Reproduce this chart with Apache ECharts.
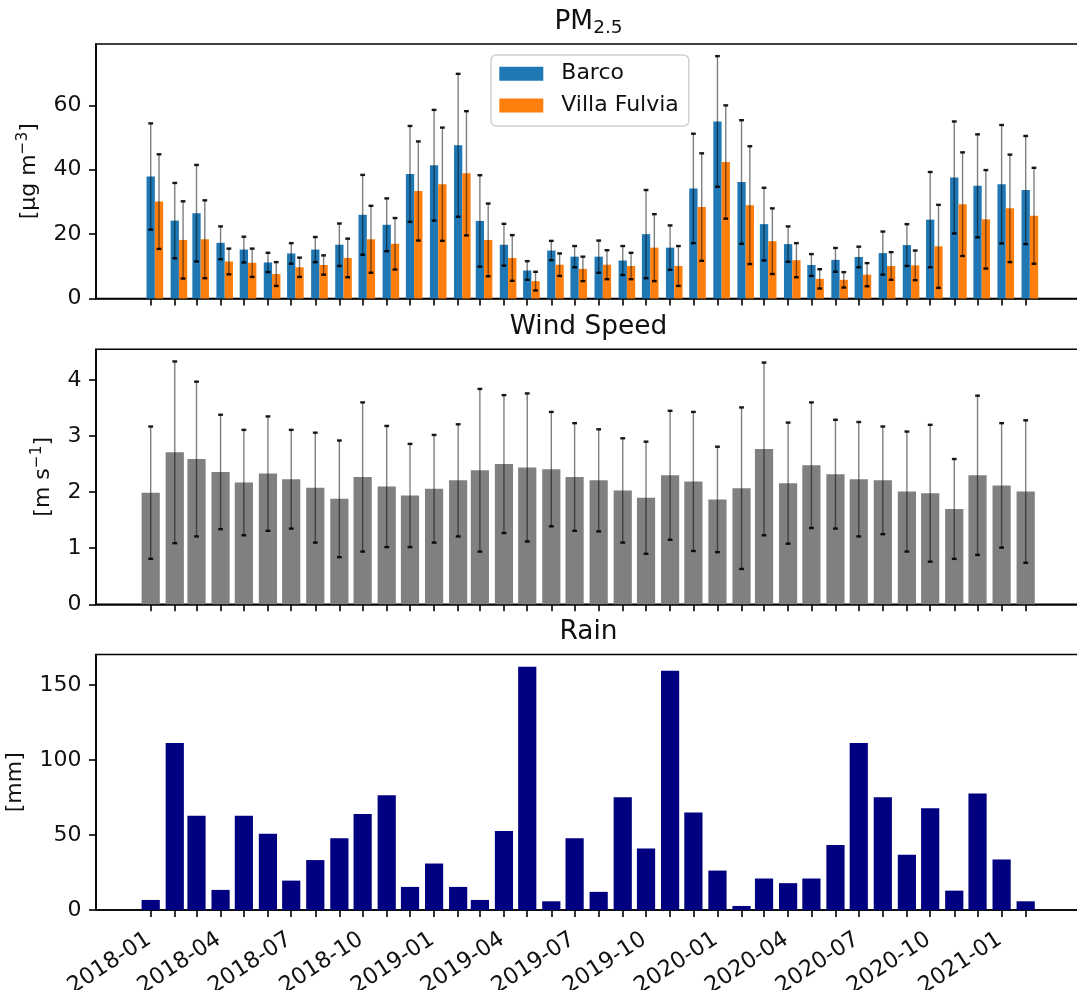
<!DOCTYPE html>
<html>
<head>
<meta charset="utf-8">
<script src="https://cdn.jsdelivr.net/npm/echarts@6/dist/echarts.min.js"></script>
<style>
  html, body { margin: 0; padding: 0; background: #ffffff; }
  #chart { width: 1077px; height: 990px; }
</style>
</head>
<body>
<div id="chart"></div>
<script>
// ---- Monthly data, 2018-01 .. 2021-02 ----
const months = [
  '2018-01','2018-02','2018-03','2018-04','2018-05','2018-06','2018-07','2018-08','2018-09','2018-10','2018-11','2018-12',
  '2019-01','2019-02','2019-03','2019-04','2019-05','2019-06','2019-07','2019-08','2019-09','2019-10','2019-11','2019-12',
  '2020-01','2020-02','2020-03','2020-04','2020-05','2020-06','2020-07','2020-08','2020-09','2020-10','2020-11','2020-12',
  '2021-01','2021-02'
];
const tickLabels = ['2018-01','2018-04','2018-07','2018-10','2019-01','2019-04','2019-07','2019-10',
                    '2020-01','2020-04','2020-07','2020-10','2021-01'];

// PM2.5 monthly mean and standard deviation [µg m-3]
const barcoMean = [37.9, 24.2, 26.5, 17.3, 15.2, 11.2, 14.0, 15.2, 16.7, 26.0, 22.9, 38.7,
                   41.4, 47.6, 24.1, 16.7, 8.7, 14.9, 13.0, 13.0, 11.8, 20.0, 15.8, 34.2,
                   55.0, 36.2, 23.1, 16.9, 10.4, 12.0, 12.9, 14.1, 16.6, 24.5, 37.6, 35.0,
                   35.5, 33.7];
const barcoStd  = [16.5, 11.7, 15.0, 5.1, 4.0, 3.0, 3.2, 3.9, 6.6, 12.4, 8.2, 14.9,
                   17.2, 22.2, 14.2, 6.5, 2.9, 3.0, 3.3, 5.0, 4.5, 13.7, 6.9, 17.0,
                   20.3, 19.2, 11.3, 5.5, 3.4, 3.7, 3.2, 6.7, 6.5, 14.8, 17.4, 16.0,
                   18.4, 16.8];
const fulviaMean = [30.1, 18.2, 18.4, 11.5, 11.1, 7.6, 9.7, 10.4, 12.6, 18.4, 17.0, 33.4,
                    35.5, 38.9, 18.2, 12.6, 5.4, 10.5, 9.2, 10.5, 10.1, 15.8, 10.1, 28.4,
                    42.4, 29.0, 17.8, 11.9, 6.1, 5.8, 7.4, 10.1, 10.3, 16.2, 29.3, 24.6,
                    28.0, 25.7];
const fulviaStd  = [14.7, 12.0, 12.1, 4.0, 4.4, 3.7, 3.0, 3.0, 6.0, 10.4, 8.0, 15.4,
                    17.6, 19.3, 11.3, 7.1, 2.9, 3.5, 3.8, 4.5, 4.1, 10.4, 6.2, 16.7,
                    17.6, 18.3, 10.2, 5.3, 3.0, 2.4, 3.6, 4.3, 4.6, 12.9, 16.1, 15.3,
                    16.7, 14.9];

// Wind speed monthly mean and standard deviation [m s-1]
const windMean = [1.99, 2.71, 2.59, 2.36, 2.17, 2.33, 2.23, 2.08, 1.88, 2.27, 2.10, 1.94,
                  2.06, 2.21, 2.39, 2.50, 2.44, 2.41, 2.27, 2.21, 2.03, 1.90, 2.30, 2.19,
                  1.87, 2.07, 2.77, 2.16, 2.48, 2.32, 2.23, 2.21, 2.01, 1.98, 1.70, 2.30,
                  2.12, 2.01];
const windStd  = [1.18, 1.62, 1.38, 1.02, 0.94, 1.02, 0.88, 0.98, 1.04, 1.33, 1.08, 0.92,
                  0.96, 1.00, 1.45, 1.23, 1.32, 1.02, 0.96, 0.91, 0.93, 1.00, 1.15, 1.24,
                  0.94, 1.44, 1.54, 1.08, 1.12, 0.97, 1.02, 0.96, 1.07, 1.22, 0.89, 1.42,
                  1.11, 1.27];

// Monthly cumulated rain [mm]
const rain = [6.7, 111.4, 62.9, 13.4, 62.9, 50.9, 19.6, 33.3, 47.8, 64.1, 76.6, 15.4,
              31.0, 15.4, 6.7, 52.7, 162.3, 5.8, 47.8, 12.1, 75.2, 41.1, 159.6, 65.0,
              26.3, 2.7, 21.0, 17.9, 21.0, 43.3, 111.4, 75.2, 36.8, 67.9, 12.9, 77.7,
              33.7, 5.8];

// ---- helpers ----
const DAY = 86400000;
const toTs = s => Date.UTC(+s.slice(0, 4), +s.slice(5, 7) - 1, 1);
const monthTs = months.map(toTs);
const labelTs = tickLabels.map(toTs);
const labelOf = {};
tickLabels.forEach((s, i) => { labelOf[labelTs[i]] = s; });

// x range: the date axis keeps a margin of ~70 days on both sides
const xMin = monthTs[0] - 70.45 * DAY;
const xMax = xMin + 1268.7 * DAY;
const pmOffset = 10.7 * DAY;            // Villa Fulvia bars sit right of Barco

const autoMax = arr => Math.max(...arr) * 1.05;
const pmMax = autoMax(barcoMean.map((v, i) => v + barcoStd[i]));
const windMax = autoMax(windMean.map((v, i) => v + windStd[i]));
const rainMax = autoMax(rain);

const FONT = 'DejaVu Sans';
const TXT = '#111111';
const LINE = '#000000';
const FS = 22;          // tick labels, axis names, legend
const TITLE_FS = 26.4;

const GRID_LEFT = 96, GRID_W = 985;
const panels = [
  { top: 44.0, height: 254.5 },
  { top: 349.3, height: 255.0 },
  { top: 654.5, height: 255.5 }
];

function errorBar(params, api) {
  const x = api.value(0), m = api.value(1), s = api.value(2);
  const hi = api.coord([x, m + s]);
  const lo = api.coord([x, m - s]);
  const cap = 2.4;
  return {
    type: 'group',
    children: [
      { type: 'line', shape: { x1: hi[0], y1: hi[1], x2: lo[0], y2: lo[1] },
        style: { stroke: 'rgba(0,0,0,0.5)', lineWidth: 1.4 } },
      { type: 'line', shape: { x1: hi[0] - cap, y1: hi[1], x2: hi[0] + cap, y2: hi[1] },
        style: { stroke: 'rgba(0,0,0,0.9)', lineWidth: 2.4 } },
      { type: 'line', shape: { x1: lo[0] - cap, y1: lo[1], x2: lo[0] + cap, y2: lo[1] },
        style: { stroke: 'rgba(0,0,0,0.9)', lineWidth: 2.4 } }
    ]
  };
}

function xAxisFor(i, withLabels) {
  return {
    gridIndex: i, type: 'value', min: xMin, max: xMax,
    splitLine: { show: false },
    axisLine: { show: true, onZero: false, lineStyle: { color: LINE, width: 1.6 } },
    axisTick: { show: true, customValues: monthTs, length: 7, lineStyle: { color: LINE, width: 1.6 } },
    axisLabel: withLabels ? {
      show: true, customValues: labelTs, rotate: 33, margin: 26.5, padding: [0, 2, 0, 0],
      fontFamily: FONT, fontSize: 22.5, color: TXT,
      formatter: v => labelOf[v] || ''
    } : { show: false }
  };
}

function yAxisFor(i, max, ticks, name, gap) {
  return {
    gridIndex: i, type: 'value', min: 0, max: max,
    splitLine: { show: false },
    axisLine: { show: true, lineStyle: { color: LINE, width: 1.6 } },
    axisTick: { show: true, customValues: ticks, length: 7, lineStyle: { color: LINE, width: 1.6 } },
    axisLabel: { show: true, customValues: ticks, margin: 14.6, fontFamily: FONT, fontSize: FS, color: TXT },
    name: name, nameLocation: 'middle', nameRotate: 90, nameGap: gap,
    nameTextStyle: {
      fontFamily: FONT, fontSize: FS, color: TXT, lineHeight: 27,
      rich: { p: { fontFamily: FONT, fontSize: 15.4, lineHeight: 15.4, verticalAlign: 'top', color: TXT } }
    }
  };
}

function titleFor(text, panelTop, rich) {
  return {
    text: text, left: 588.5, top: panelTop - 22 - 16, padding: 0,
    textAlign: 'center', textVerticalAlign: 'top',
    textStyle: {
      fontFamily: FONT, fontSize: TITLE_FS, fontWeight: 'normal', color: TXT, lineHeight: 32,
      rich: rich || {}
    }
  };
}

const pairs = (xs, ys) => xs.map((x, i) => [x, ys[i]]);
const triples = (xs, ms, ss) => xs.map((x, i) => [x, ms[i], ss[i]]);
const fulviaTs = monthTs.map(t => t + pmOffset);

const option = {
  backgroundColor: '#ffffff',
  animation: false,
  textStyle: { fontFamily: FONT },
  title: [
    titleFor('{t|PM}{s|2.5}', panels[0].top, {
      t: { fontFamily: FONT, fontSize: TITLE_FS, lineHeight: 32, color: TXT },
      s: { fontFamily: FONT, fontSize: 18.5, lineHeight: 18.5, verticalAlign: 'bottom', color: TXT }
    }),
    titleFor('Wind Speed', panels[1].top),
    titleFor('Rain', panels[2].top)
  ],
  legend: {
    data: ['Barco', 'Villa Fulvia'],
    orient: 'vertical', left: 491, top: 55,
    padding: [6.2, 10, 8, 8.3],
    itemWidth: 44, itemHeight: 14, itemGap: 6.8,
    icon: 'rect', selectedMode: false,
    backgroundColor: 'rgba(255,255,255,0.8)',
    borderColor: '#d0d0d0', borderWidth: 1.5, borderRadius: 5,
    textStyle: { fontFamily: FONT, fontSize: FS, color: TXT, lineHeight: 25, padding: [0, 0, 0, 13] }
  },
  grid: panels.map(p => ({
    left: GRID_LEFT, width: GRID_W, top: p.top, height: p.height,
    outerBoundsMode: 'none', containLabel: false,
    show: true, borderColor: LINE, borderWidth: 1.6, backgroundColor: 'transparent'
  })),
  xAxis: [xAxisFor(0, false), xAxisFor(1, false), xAxisFor(2, true)],
  yAxis: [
    yAxisFor(0, pmMax, [0, 20, 40, 60], '[μg m{p|−3}]', 52.5),
    yAxisFor(1, windMax, [0, 1, 2, 3, 4], '[m s{p|−1}]', 36.5),
    yAxisFor(2, rainMax, [0, 50, 100, 150], '[mm]', 59)
  ],
  series: [
    { name: 'Barco', type: 'bar', xAxisIndex: 0, yAxisIndex: 0, barWidth: 8.3, barGap: '-100%',
      itemStyle: { color: '#1f77b4' }, data: pairs(monthTs, barcoMean) },
    { name: 'Villa Fulvia', type: 'bar', xAxisIndex: 0, yAxisIndex: 0, barWidth: 8.3, barGap: '-100%',
      itemStyle: { color: '#ff7f0e' }, data: pairs(fulviaTs, fulviaMean) },
    { name: 'Barco sd', type: 'custom', xAxisIndex: 0, yAxisIndex: 0, renderItem: errorBar,
      encode: { x: 0, y: [1, 2] }, silent: true, z: 5, data: triples(monthTs, barcoMean, barcoStd) },
    { name: 'Villa Fulvia sd', type: 'custom', xAxisIndex: 0, yAxisIndex: 0, renderItem: errorBar,
      encode: { x: 0, y: [1, 2] }, silent: true, z: 5, data: triples(fulviaTs, fulviaMean, fulviaStd) },

    { name: 'Wind Speed', type: 'bar', xAxisIndex: 1, yAxisIndex: 1, barWidth: 18.2,
      itemStyle: { color: '#808080' }, data: pairs(monthTs, windMean) },
    { name: 'Wind sd', type: 'custom', xAxisIndex: 1, yAxisIndex: 1, renderItem: errorBar,
      encode: { x: 0, y: [1, 2] }, silent: true, z: 5, data: triples(monthTs, windMean, windStd) },

    { name: 'Rain', type: 'bar', xAxisIndex: 2, yAxisIndex: 2, barWidth: 18.2,
      itemStyle: { color: '#000080' }, data: pairs(monthTs, rain) }
  ]
};

const chart = echarts.init(document.getElementById('chart'), null, { renderer: 'canvas' });
chart.setOption(option);
</script>
</body>
</html>
